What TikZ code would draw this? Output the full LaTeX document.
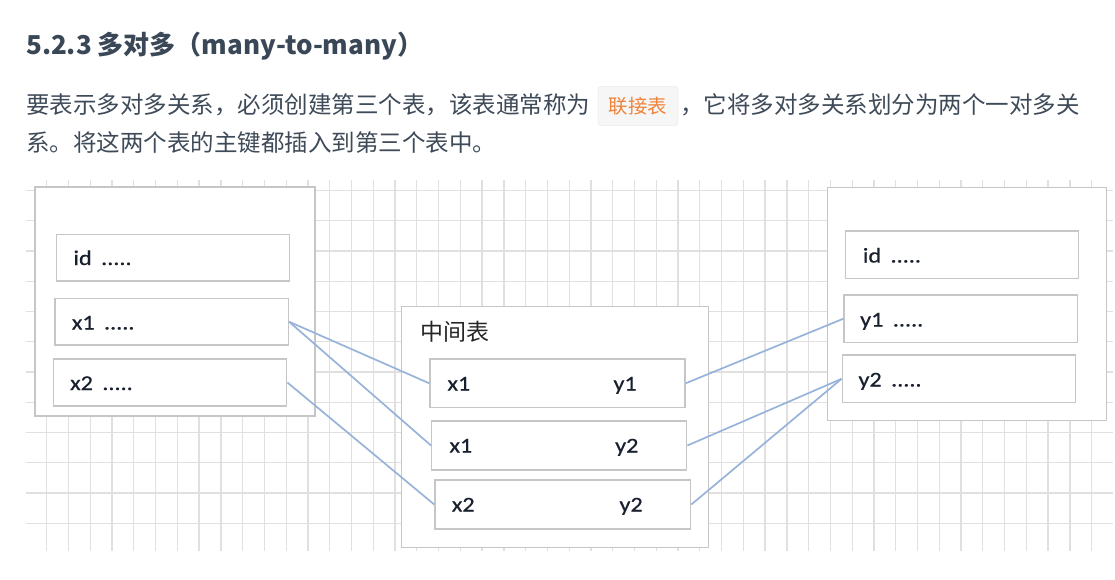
\documentclass[tikz,border=0pt]{standalone}
\usepackage{fontspec}
\setmainfont{Noto Sans CJK SC}
\newfontfamily\diagfont[FakeStretch=1.15,FakeBold=0.6]{Carlito}
\newfontfamily\cjkfont{Noto Sans CJK SC}
\definecolor{headc}{HTML}{394756}
\definecolor{bodyc}{HTML}{3E4A58}
\definecolor{orangec}{HTML}{F0833A}
\definecolor{codebg}{HTML}{F6F6F6}
\definecolor{gridc}{HTML}{E0E0E0}
\definecolor{boxc}{HTML}{C6C6C6}
\definecolor{linkc}{HTML}{98B3DA}
\definecolor{tabtext}{HTML}{18202E}
\tikzset{
  tbl/.style={draw=boxc, line width=1.4pt, fill=white, inner sep=0pt},
  rowbox/.style={draw=boxc, line width=1.4pt, fill=white, inner sep=0pt},
  fld/.style={anchor=base west, inner sep=0pt, text=tabtext, font=\diagfont\fontsize{21}{24}\selectfont},
  link/.style={draw=linkc, line width=1.7pt},
  para/.style={anchor=west, inner sep=0pt, text=bodyc, font=\cjkfont\fontsize{23.5}{28}\selectfont},
}
\begin{document}
\begin{tikzpicture}[x=1pt,y=-1pt]
\useasboundingbox (0,0) rectangle (1115,580);
% heading
\node[anchor=west, inner sep=0pt, text=headc, font=\cjkfont\bfseries\fontsize{26}{30}\selectfont] (title) at (26,46) {5.2.3 多对多（many-to-many）};
% paragraph
\node[para] (p1a) at (26,105) {要表示多对多关系，必须创建第三个表，该表通常称为};
\node[fill=codebg, draw=codebg!80!gray, line width=0.3pt, rounded corners=3pt, minimum width=80pt, minimum height=39pt, inner sep=0pt, text=orangec, font=\cjkfont\fontsize{19.5}{24}\selectfont] (code) at (638,106) {联接表};
\node[para] (p1b) at (680,105) {，它将多对多关系划分为两个一对多关};
\node[para] (p2) at (26,143) {系。将这两个表的主键都插入到第三个表中。};
% grid
\foreach \k in {0,...,48} {
  \draw[gridc, line width=1.3pt] ({46.7+21.77*\k},180) -- ({46.7+21.77*\k},551);
}
\foreach \k in {0,...,11} {
  \draw[gridc, line width=1.3pt] (26,{190.5+30.26*\k}) -- (1113,{190.5+30.26*\k});
}
% left table
\node[tbl, minimum width=280pt, minimum height=229pt] (L) at (175,301.5) {};
\node[rowbox, minimum width=232.6pt, minimum height=46.7pt] (Lid) at (173,257.7) {};
\node[rowbox, minimum width=233.3pt, minimum height=46.7pt] (Lx1) at (171.7,321.7) {};
\node[rowbox, minimum width=233.4pt, minimum height=47pt] (Lx2) at (170,382.5) {};
\node[fld] (tLid) at (73.3,265) {id\hspace{0.45em}.....};
\node[fld] (tLx1) at (71.7,329.5) {x1\hspace{0.45em}.....};
\node[fld] (tLx2) at (70,390) {x2\hspace{0.45em}.....};
% middle table
\node[tbl, minimum width=306.6pt, minimum height=240.6pt] (M) at (555,427) {};
\node[anchor=west, inner sep=0pt, text=black!85, font=\cjkfont\fontsize{23}{26}\selectfont] (Mt) at (420,331.7) {中间表};
\node[rowbox, minimum width=255pt, minimum height=48.7pt] (M1) at (557.5,383.3) {};
\node[rowbox, minimum width=255pt, minimum height=49pt] (M2) at (559.2,445.5) {};
\node[rowbox, minimum width=255.7pt, minimum height=49pt] (M3) at (562.8,504.5) {};
\node[fld] (tM1a) at (447.3,390.5) {x1};
\node[fld] (tM1b) at (613.3,390.5) {y1};
\node[fld] (tM2a) at (449.3,452.5) {x1};
\node[fld] (tM2b) at (615,452.5) {y2};
\node[fld] (tM3a) at (451.7,511.5) {x2};
\node[fld] (tM3b) at (619.3,511.5) {y2};
% right table
\node[tbl, minimum width=279.4pt, minimum height=233.4pt] (R) at (967,304) {};
\node[rowbox, minimum width=233pt, minimum height=47.3pt] (Rid) at (962.2,254.7) {};
\node[rowbox, minimum width=233.3pt, minimum height=47.3pt] (Ry1) at (960.7,318.7) {};
\node[rowbox, minimum width=233.4pt, minimum height=47.7pt] (Ry2) at (959,378.8) {};
\node[fld] (tRid) at (862.7,262.5) {id\hspace{0.45em}.....};
\node[fld] (tRy1) at (860,326.5) {y1\hspace{0.45em}.....};
\node[fld] (tRy2) at (858.3,386.5) {y2\hspace{0.45em}.....};
% connectors
\draw[link] (Lx1.east) -- (M1.west);
\draw[link] (Lx1.east) -- (M2.west);
\draw[link] (Lx2.east) -- (M3.west);
\draw[link] (M1.east) -- (Ry1.west);
\draw[link] (M2.east) -- (Ry2.west);
\draw[link] (M3.east) -- (Ry2.west);
\end{tikzpicture}
\end{document}
